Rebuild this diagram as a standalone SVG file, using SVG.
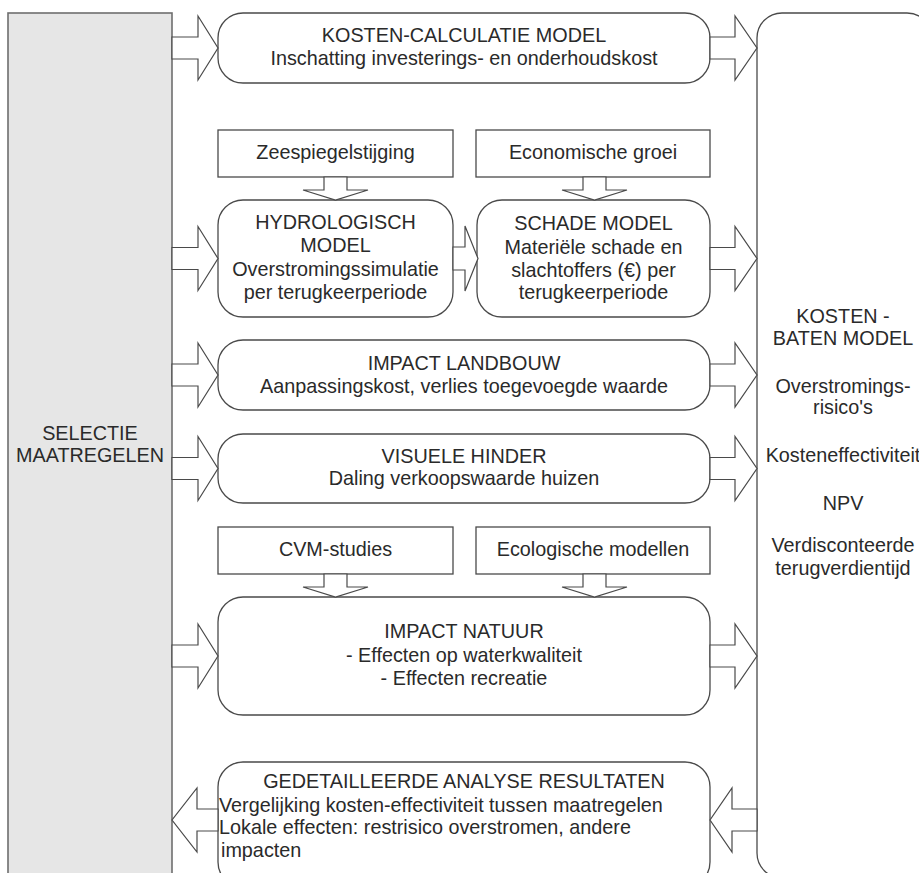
<svg xmlns="http://www.w3.org/2000/svg" width="919" height="873" viewBox="0 0 919 873">
<style>
  .box { fill: #ffffff; stroke: #4a4a4a; stroke-width: 1.3; }
  .panel { fill: #e6e6e6; stroke: #6e6e6e; stroke-width: 1.6; }
  .arr { fill: #ffffff; stroke: #4a4a4a; stroke-width: 1.2; stroke-linejoin: miter; }
  text { font-family: "Liberation Sans", Arial, sans-serif; font-size: 19.8px; fill: #2a2a2a; }
  .c { text-anchor: middle; }
</style>
<rect width="919" height="873" fill="#ffffff"/>

<g id="selectie">
  <rect class="panel" x="8" y="13" width="164" height="880"/>
  <text class="c" x="90" y="440">SELECTIE</text>
  <text class="c" x="90" y="462">MAATREGELEN</text>
</g>

<g id="kostenbaten">
  <rect class="box" x="757" y="13" width="175" height="865" rx="25" ry="25"/>
  <text class="c" x="843" y="323">KOSTEN -</text>
  <text class="c" x="843" y="345">BATEN MODEL</text>
  <text class="c" x="843" y="393">Overstromings-</text>
  <text class="c" x="843" y="414">risico's</text>
  <text class="c" x="843" y="462">Kosteneffectiviteit</text>
  <text class="c" x="843" y="510">NPV</text>
  <text class="c" x="843" y="552">Verdisconteerde</text>
  <text class="c" x="843" y="575">terugverdientijd</text>
</g>

<g id="kostencalc">
  <rect class="box" x="218" y="13" width="492" height="70" rx="25" ry="25"/>
  <text class="c" x="464" y="42">KOSTEN-CALCULATIE MODEL</text>
  <text class="c" x="464" y="65">Inschatting investerings- en onderhoudskost</text>
</g>

<g id="zeespiegel">
  <rect class="box" x="218" y="130" width="235" height="47"/>
  <text class="c" x="335.5" y="159">Zeespiegelstijging</text>
</g>

<g id="economische">
  <rect class="box" x="476" y="130" width="234" height="47"/>
  <text class="c" x="593" y="159">Economische groei</text>
</g>

<g id="hydrologisch">
  <rect class="box" x="218" y="200" width="235" height="117" rx="25" ry="25"/>
  <text class="c" x="335.5" y="229">HYDROLOGISCH</text>
  <text class="c" x="335.5" y="252">MODEL</text>
  <text class="c" x="335.5" y="276">Overstromingssimulatie</text>
  <text class="c" x="335.5" y="299">per terugkeerperiode</text>
</g>

<g id="schade">
  <rect class="box" x="477" y="200" width="233" height="117" rx="25" ry="25"/>
  <text class="c" x="593.5" y="230">SCHADE MODEL</text>
  <text class="c" x="593.5" y="254">Materiële schade en</text>
  <text class="c" x="593.5" y="277">slachtoffers (€) per</text>
  <text class="c" x="593.5" y="299">terugkeerperiode</text>
</g>

<g id="landbouw">
  <rect class="box" x="218" y="340" width="492" height="70" rx="25" ry="25"/>
  <text class="c" x="464" y="370">IMPACT LANDBOUW</text>
  <text class="c" x="464" y="393">Aanpassingskost, verlies toegevoegde waarde</text>
</g>

<g id="visuele">
  <rect class="box" x="218" y="434" width="492" height="69" rx="25" ry="25"/>
  <text class="c" x="464" y="463">VISUELE HINDER</text>
  <text class="c" x="464" y="485">Daling verkoopswaarde huizen</text>
</g>

<g id="cvm">
  <rect class="box" x="218" y="527" width="235" height="47"/>
  <text class="c" x="335.5" y="556">CVM-studies</text>
</g>

<g id="ecologische">
  <rect class="box" x="476" y="527" width="234" height="47"/>
  <text class="c" x="593" y="556">Ecologische modellen</text>
</g>

<g id="natuur">
  <rect class="box" x="218" y="597" width="492" height="118" rx="25" ry="25"/>
  <text class="c" x="464" y="638">IMPACT NATUUR</text>
  <text class="c" x="464" y="662">- Effecten op waterkwaliteit</text>
  <text class="c" x="464" y="685">- Effecten recreatie</text>
</g>

<g id="gedetailleerd">
  <rect class="box" x="218" y="762" width="492" height="125" rx="25" ry="25"/>
  <text class="c" x="464" y="788">GEDETAILLEERDE ANALYSE RESULTATEN</text>
  <text x="219" y="812">Vergelijking kosten-effectiviteit tussen maatregelen</text>
  <text x="219" y="834">Lokale effecten: restrisico overstromen, andere</text>
  <text x="221" y="857">impacten</text>
</g>

<g id="connectors">
  <polygon class="arr" points="172,37 198,37 198,16 218,48 198,80 198,59 172,59"/>
  <polygon class="arr" points="710,37 735,37 735,16 757,48 735,80 735,59 710,59"/>
  <polygon class="arr" points="172,247.5 198,247.5 198,226.5 218,258.5 198,290.5 198,269.5 172,269.5"/>
  <polygon class="arr" points="453,247 465,247 465,226 478,258.5 465,291 465,270 453,270"/>
  <polygon class="arr" points="710,247.5 735,247.5 735,226.5 757,258.5 735,290.5 735,269.5 710,269.5"/>
  <polygon class="arr" points="172,364 198,364 198,343 218,375 198,407 198,386 172,386"/>
  <polygon class="arr" points="710,364 735,364 735,343 757,375 735,407 735,386 710,386"/>
  <polygon class="arr" points="172,457.5 198,457.5 198,436.5 218,468.5 198,500.5 198,479.5 172,479.5"/>
  <polygon class="arr" points="710,457.5 735,457.5 735,436.5 757,468.5 735,500.5 735,479.5 710,479.5"/>
  <polygon class="arr" points="172,645 198,645 198,624 218,656 198,688 198,667 172,667"/>
  <polygon class="arr" points="710,645 735,645 735,624 757,656 735,688 735,667 710,667"/>
  <polygon class="arr" points="218,809 197,809 197,788 172,820 197,852 197,831 218,831"/>
  <polygon class="arr" points="757,809 732,809 732,788 710,820 732,852 732,831 757,831"/>
  <polygon class="arr" points="324,177 347,177 347,190 368,190 335.5,200 303,190 324,190"/>
  <polygon class="arr" points="583,177 606,177 606,190 627,190 594.5,200 562,190 583,190"/>
  <polygon class="arr" points="324,574 347,574 347,587 368,587 335.5,597 303,587 324,587"/>
  <polygon class="arr" points="583,574 606,574 606,587 627,587 594.5,597 562,587 583,587"/>
</g>
</svg>
